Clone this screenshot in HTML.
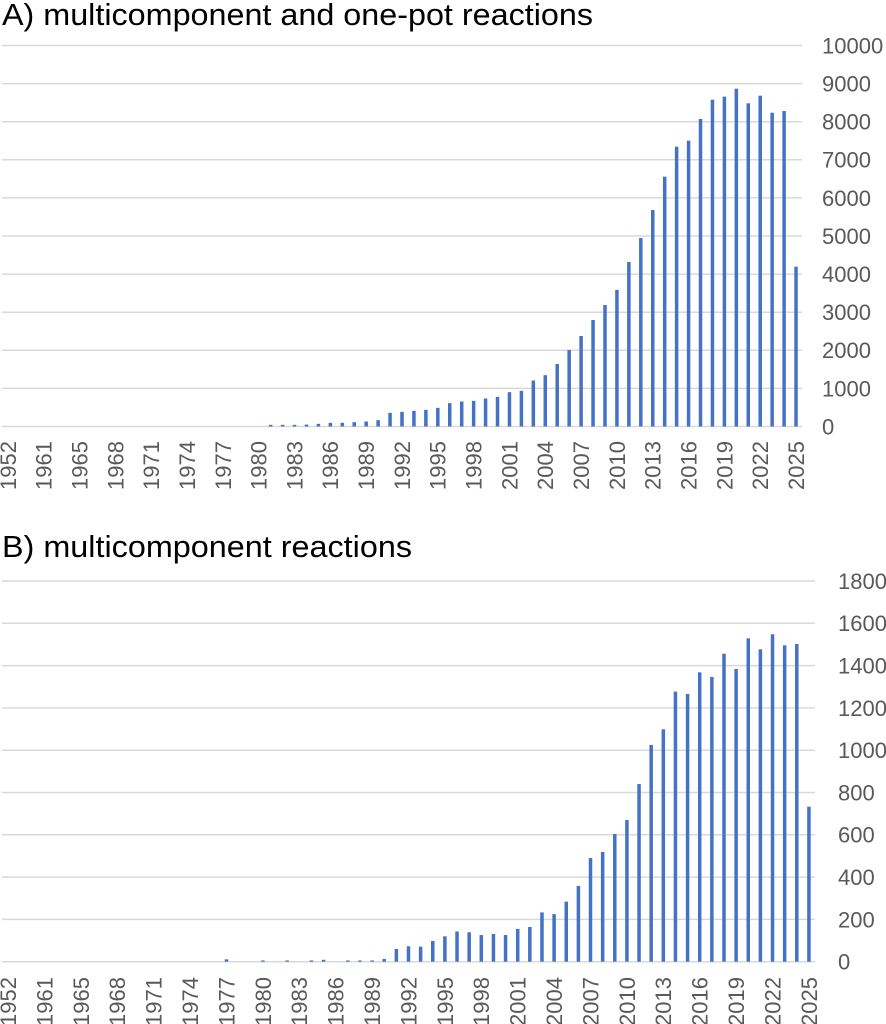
<!DOCTYPE html>
<html>
<head>
<meta charset="utf-8">
<style>
html,body{margin:0;padding:0;background:#fff;}
svg{display:block;}
text{font-family:"Liberation Sans",Arial,sans-serif;}
.t{font-size:31px;fill:#000;}
.y{font-size:22px;fill:#595959;}
.x{font-size:22px;fill:#595959;}
.g{stroke:#d9d9d9;stroke-width:1.5;}
.b{fill:#4472c4;}
</style>
</head>
<body>
<svg width="886" height="1024" viewBox="0 0 886 1024" xmlns="http://www.w3.org/2000/svg">
<rect width="886" height="1024" fill="#fff"/>

<!-- ===== Chart A ===== -->
<text class="t" x="2" y="25" textLength="591" lengthAdjust="spacingAndGlyphs">A) multicomponent and one-pot reactions</text>

<g>
<line class="g" x1="2" x2="802" y1="426.5" y2="426.5"/>
<line class="g" x1="2" x2="802" y1="388.4" y2="388.4"/>
<line class="g" x1="2" x2="802" y1="350.3" y2="350.3"/>
<line class="g" x1="2" x2="802" y1="312.2" y2="312.2"/>
<line class="g" x1="2" x2="802" y1="274.1" y2="274.1"/>
<line class="g" x1="2" x2="802" y1="236.0" y2="236.0"/>
<line class="g" x1="2" x2="802" y1="197.9" y2="197.9"/>
<line class="g" x1="2" x2="802" y1="159.8" y2="159.8"/>
<line class="g" x1="2" x2="802" y1="121.7" y2="121.7"/>
<line class="g" x1="2" x2="802" y1="83.6" y2="83.6"/>
<line class="g" x1="2" x2="802" y1="45.5" y2="45.5"/>
</g>

<g>
<text class="y" x="822" y="434.4">0</text>
<text class="y" x="822" y="396.3">1000</text>
<text class="y" x="822" y="358.2">2000</text>
<text class="y" x="822" y="320.1">3000</text>
<text class="y" x="822" y="282.0">4000</text>
<text class="y" x="822" y="243.9">5000</text>
<text class="y" x="822" y="205.8">6000</text>
<text class="y" x="822" y="167.7">7000</text>
<text class="y" x="822" y="129.6">8000</text>
<text class="y" x="822" y="91.5">9000</text>
<text class="y" x="822" y="53.4">10000</text>
</g>

<g class="b">
<rect x="268.91" y="424.82" width="3.5" height="1.68"/>
<rect x="280.85" y="424.82" width="3.5" height="1.68"/>
<rect x="292.79" y="424.82" width="3.5" height="1.68"/>
<rect x="304.73" y="424.59" width="3.5" height="1.91"/>
<rect x="316.67" y="423.83" width="3.5" height="2.67"/>
<rect x="328.61" y="422.84" width="3.5" height="3.66"/>
<rect x="340.55" y="422.84" width="3.5" height="3.66"/>
<rect x="352.49" y="422.16" width="3.5" height="4.34"/>
<rect x="364.43" y="421.51" width="3.5" height="4.99"/>
<rect x="376.37" y="420.18" width="3.5" height="6.32"/>
<rect x="388.31" y="412.82" width="3.5" height="13.68"/>
<rect x="400.25" y="411.83" width="3.5" height="14.67"/>
<rect x="412.19" y="410.84" width="3.5" height="15.66"/>
<rect x="424.13" y="409.85" width="3.5" height="16.65"/>
<rect x="436.07" y="407.83" width="3.5" height="18.67"/>
<rect x="448.01" y="403.18" width="3.5" height="23.32"/>
<rect x="459.95" y="401.51" width="3.5" height="24.99"/>
<rect x="471.89" y="400.82" width="3.5" height="25.68"/>
<rect x="483.83" y="398.50" width="3.5" height="28.00"/>
<rect x="495.77" y="396.86" width="3.5" height="29.64"/>
<rect x="507.71" y="392.17" width="3.5" height="34.33"/>
<rect x="519.65" y="390.84" width="3.5" height="35.66"/>
<rect x="531.59" y="380.51" width="3.5" height="45.99"/>
<rect x="543.53" y="375.18" width="3.5" height="51.32"/>
<rect x="555.47" y="364.02" width="3.5" height="62.48"/>
<rect x="567.41" y="350.00" width="3.5" height="76.50"/>
<rect x="579.35" y="336.01" width="3.5" height="90.49"/>
<rect x="591.30" y="320.01" width="3.5" height="106.49"/>
<rect x="603.24" y="304.96" width="3.5" height="121.54"/>
<rect x="615.18" y="289.99" width="3.5" height="136.51"/>
<rect x="627.12" y="261.98" width="3.5" height="164.52"/>
<rect x="639.06" y="238.06" width="3.5" height="188.44"/>
<rect x="651.00" y="210.02" width="3.5" height="216.48"/>
<rect x="662.94" y="176.68" width="3.5" height="249.82"/>
<rect x="674.88" y="146.69" width="3.5" height="279.81"/>
<rect x="686.82" y="140.71" width="3.5" height="285.79"/>
<rect x="698.76" y="118.99" width="3.5" height="307.51"/>
<rect x="710.70" y="99.68" width="3.5" height="326.82"/>
<rect x="722.64" y="96.67" width="3.5" height="329.83"/>
<rect x="734.58" y="88.71" width="3.5" height="337.79"/>
<rect x="746.52" y="103.30" width="3.5" height="323.20"/>
<rect x="758.46" y="95.68" width="3.5" height="330.82"/>
<rect x="770.40" y="112.71" width="3.5" height="313.79"/>
<rect x="782.34" y="110.99" width="3.5" height="315.51"/>
<rect x="794.28" y="266.67" width="3.5" height="159.83"/>
</g>

<g class="x" text-anchor="end">
<text transform="translate(15.87,441) rotate(-90)">1952</text>
<text transform="translate(51.69,441) rotate(-90)">1961</text>
<text transform="translate(87.51,441) rotate(-90)">1965</text>
<text transform="translate(123.33,441) rotate(-90)">1968</text>
<text transform="translate(159.15,441) rotate(-90)">1971</text>
<text transform="translate(194.97,441) rotate(-90)">1974</text>
<text transform="translate(230.79,441) rotate(-90)">1977</text>
<text transform="translate(266.61,441) rotate(-90)">1980</text>
<text transform="translate(302.42,441) rotate(-90)">1983</text>
<text transform="translate(338.24,441) rotate(-90)">1986</text>
<text transform="translate(374.06,441) rotate(-90)">1989</text>
<text transform="translate(409.88,441) rotate(-90)">1992</text>
<text transform="translate(445.70,441) rotate(-90)">1995</text>
<text transform="translate(481.52,441) rotate(-90)">1998</text>
<text transform="translate(517.34,441) rotate(-90)">2001</text>
<text transform="translate(553.16,441) rotate(-90)">2004</text>
<text transform="translate(589.00,441) rotate(-90)">2007</text>
<text transform="translate(624.80,441) rotate(-90)">2010</text>
<text transform="translate(660.62,441) rotate(-90)">2013</text>
<text transform="translate(696.44,441) rotate(-90)">2016</text>
<text transform="translate(732.26,441) rotate(-90)">2019</text>
<text transform="translate(768.08,441) rotate(-90)">2022</text>
<text transform="translate(803.93,441) rotate(-90)">2025</text>
</g>

<!-- ===== Chart B ===== -->
<text class="t" x="2" y="557" textLength="410" lengthAdjust="spacingAndGlyphs">B) multicomponent reactions</text>

<g>
<line class="g" x1="2" x2="815" y1="961.7" y2="961.7"/>
<line class="g" x1="2" x2="815" y1="919.4" y2="919.4"/>
<line class="g" x1="2" x2="815" y1="877.1" y2="877.1"/>
<line class="g" x1="2" x2="815" y1="834.8" y2="834.8"/>
<line class="g" x1="2" x2="815" y1="792.5" y2="792.5"/>
<line class="g" x1="2" x2="815" y1="750.2" y2="750.2"/>
<line class="g" x1="2" x2="815" y1="707.9" y2="707.9"/>
<line class="g" x1="2" x2="815" y1="665.6" y2="665.6"/>
<line class="g" x1="2" x2="815" y1="623.3" y2="623.3"/>
<line class="g" x1="2" x2="815" y1="581.0" y2="581.0"/>
</g>

<g>
<text class="y" x="838" y="969.6">0</text>
<text class="y" x="838" y="927.3">200</text>
<text class="y" x="838" y="885.0">400</text>
<text class="y" x="838" y="842.7">600</text>
<text class="y" x="838" y="800.4">800</text>
<text class="y" x="838" y="758.1">1000</text>
<text class="y" x="838" y="715.8">1200</text>
<text class="y" x="838" y="673.5">1400</text>
<text class="y" x="838" y="631.2">1600</text>
<text class="y" x="838" y="588.9">1800</text>
</g>

<g class="b">
<rect x="224.73" y="959.37" width="3.5" height="2.33"/>
<rect x="261.14" y="960.43" width="3.5" height="1.27"/>
<rect x="285.41" y="960.43" width="3.5" height="1.27"/>
<rect x="309.67" y="960.43" width="3.5" height="1.27"/>
<rect x="321.81" y="959.80" width="3.5" height="1.90"/>
<rect x="346.08" y="960.43" width="3.5" height="1.27"/>
<rect x="358.21" y="960.43" width="3.5" height="1.27"/>
<rect x="370.35" y="960.43" width="3.5" height="1.27"/>
<rect x="382.48" y="958.95" width="3.5" height="2.75"/>
<rect x="394.62" y="949.01" width="3.5" height="12.69"/>
<rect x="406.75" y="946.26" width="3.5" height="15.44"/>
<rect x="418.88" y="946.68" width="3.5" height="15.02"/>
<rect x="431.02" y="940.97" width="3.5" height="20.73"/>
<rect x="443.15" y="936.32" width="3.5" height="25.38"/>
<rect x="455.29" y="931.46" width="3.5" height="30.24"/>
<rect x="467.42" y="932.30" width="3.5" height="29.40"/>
<rect x="479.55" y="935.05" width="3.5" height="26.65"/>
<rect x="491.69" y="933.99" width="3.5" height="27.71"/>
<rect x="503.82" y="935.05" width="3.5" height="26.65"/>
<rect x="515.96" y="928.92" width="3.5" height="32.78"/>
<rect x="528.09" y="927.01" width="3.5" height="34.69"/>
<rect x="540.23" y="912.42" width="3.5" height="49.28"/>
<rect x="552.36" y="914.11" width="3.5" height="47.59"/>
<rect x="564.49" y="901.63" width="3.5" height="60.07"/>
<rect x="576.63" y="885.98" width="3.5" height="75.72"/>
<rect x="588.76" y="858.06" width="3.5" height="103.64"/>
<rect x="600.90" y="851.93" width="3.5" height="109.77"/>
<rect x="613.03" y="833.95" width="3.5" height="127.75"/>
<rect x="625.17" y="819.99" width="3.5" height="141.71"/>
<rect x="637.30" y="784.04" width="3.5" height="177.66"/>
<rect x="649.43" y="744.91" width="3.5" height="216.79"/>
<rect x="661.57" y="729.26" width="3.5" height="232.44"/>
<rect x="673.70" y="691.61" width="3.5" height="270.09"/>
<rect x="685.84" y="693.94" width="3.5" height="267.76"/>
<rect x="697.97" y="672.37" width="3.5" height="289.33"/>
<rect x="710.11" y="677.02" width="3.5" height="284.68"/>
<rect x="722.24" y="653.76" width="3.5" height="307.94"/>
<rect x="734.37" y="668.98" width="3.5" height="292.72"/>
<rect x="746.51" y="638.32" width="3.5" height="323.38"/>
<rect x="758.64" y="649.31" width="3.5" height="312.39"/>
<rect x="770.78" y="634.30" width="3.5" height="327.40"/>
<rect x="782.91" y="645.30" width="3.5" height="316.40"/>
<rect x="795.05" y="644.03" width="3.5" height="317.67"/>
<rect x="807.18" y="806.67" width="3.5" height="155.03"/>
</g>

<g class="x" text-anchor="end">
<text transform="translate(15.97,977) rotate(-90)">1952</text>
<text transform="translate(52.37,977) rotate(-90)">1961</text>
<text transform="translate(88.77,977) rotate(-90)">1965</text>
<text transform="translate(125.18,977) rotate(-90)">1968</text>
<text transform="translate(161.58,977) rotate(-90)">1971</text>
<text transform="translate(197.98,977) rotate(-90)">1974</text>
<text transform="translate(234.39,977) rotate(-90)">1977</text>
<text transform="translate(270.79,977) rotate(-90)">1980</text>
<text transform="translate(307.19,977) rotate(-90)">1983</text>
<text transform="translate(343.59,977) rotate(-90)">1986</text>
<text transform="translate(380.00,977) rotate(-90)">1989</text>
<text transform="translate(416.40,977) rotate(-90)">1992</text>
<text transform="translate(452.80,977) rotate(-90)">1995</text>
<text transform="translate(489.21,977) rotate(-90)">1998</text>
<text transform="translate(525.61,977) rotate(-90)">2001</text>
<text transform="translate(562.01,977) rotate(-90)">2004</text>
<text transform="translate(598.41,977) rotate(-90)">2007</text>
<text transform="translate(634.82,977) rotate(-90)">2010</text>
<text transform="translate(671.22,977) rotate(-90)">2013</text>
<text transform="translate(707.62,977) rotate(-90)">2016</text>
<text transform="translate(744.03,977) rotate(-90)">2019</text>
<text transform="translate(780.43,977) rotate(-90)">2022</text>
<text transform="translate(816.83,977) rotate(-90)">2025</text>
</g>
</svg>
</body>
</html>
